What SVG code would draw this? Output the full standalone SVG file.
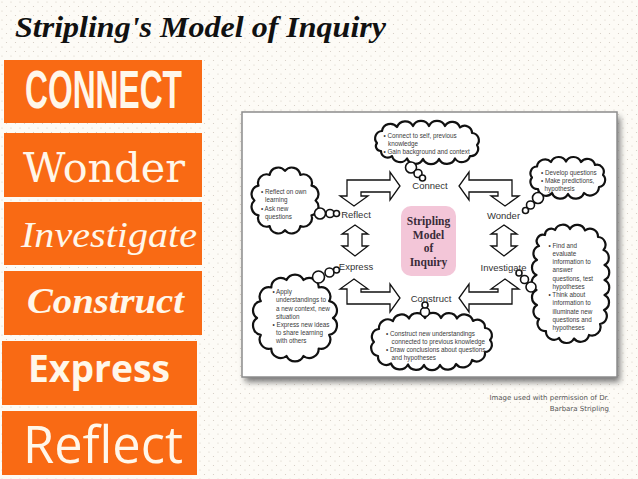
<svg xmlns="http://www.w3.org/2000/svg" width="638" height="479" viewBox="0 0 638 479">
<defs>
<pattern id="dots" width="9" height="9" patternUnits="userSpaceOnUse">
<circle cx="2" cy="2" r="0.6" fill="#d2cac0"/>
<circle cx="6.5" cy="6.5" r="0.6" fill="#d2cac0"/>
</pattern>
<filter id="shadow" x="-10%" y="-10%" width="120%" height="130%">
<feGaussianBlur stdDeviation="3"/>
</filter>
<style>
.box{fill:#F96A14}
.bt{fill:#FFF7EA}
.cloud{fill:#fff;stroke:#111;stroke-width:2.2;stroke-linejoin:round}
.bub{fill:#fff;stroke:#111;stroke-width:1.6}
.arw{fill:#fff;stroke:#111;stroke-width:1.3;stroke-linejoin:miter}
.ct{font-family:"Liberation Sans",Arial,sans-serif;font-size:6.3px;fill:#3a3a3a}
.lbl{font-family:"Liberation Sans",Arial,sans-serif;font-size:9.5px;fill:#333;text-anchor:middle}
.cap{font-family:"DejaVu Sans","Liberation Sans",sans-serif;font-size:7px;fill:#555;text-anchor:end}
.pk{font-family:"Liberation Serif","Times New Roman",serif;font-size:11.5px;font-weight:bold;fill:#3a2b38;text-anchor:middle}
</style>
</defs>

<rect width="638" height="479" fill="#FDFBF6"/>
<rect width="638" height="479" fill="url(#dots)"/>

<text id="title" x="15" y="37" font-family="Liberation Serif, serif" font-style="italic" font-weight="bold" font-size="29" textLength="371" lengthAdjust="spacingAndGlyphs" fill="#111">Stripling's Model of Inquiry</text>

<g id="box-connect">
<rect class="box" x="4" y="60" width="198" height="63"/>
<text class="bt" x="25" y="108" font-family="Liberation Sans, sans-serif" font-weight="bold" font-size="53" textLength="157" lengthAdjust="spacingAndGlyphs">CONNECT</text>
</g>
<g id="box-wonder">
<rect class="box" x="4" y="133" width="198" height="64"/>
<text class="bt" x="23" y="182" font-family="DejaVu Serif, serif" font-size="41" textLength="162" lengthAdjust="spacingAndGlyphs">Wonder</text>
</g>
<g id="box-investigate">
<rect class="box" x="4" y="202" width="198" height="63"/>
<text class="bt" x="21" y="247" font-family="Liberation Serif, serif" font-style="italic" font-size="36" textLength="176" lengthAdjust="spacingAndGlyphs">Investigate</text>
</g>
<g id="box-construct">
<rect class="box" x="4" y="271" width="198" height="64"/>
<text class="bt" x="27" y="313" font-family="Liberation Serif, serif" font-style="italic" font-weight="bold" font-size="36" textLength="157" lengthAdjust="spacingAndGlyphs">Construct</text>
</g>
<g id="box-express">
<rect class="box" x="2" y="341" width="195" height="64"/>
<text class="bt" x="28" y="382" font-family="Open Sans, sans-serif" font-weight="bold" font-size="37" textLength="142" lengthAdjust="spacingAndGlyphs">Express</text>
</g>
<g id="box-reflect">
<rect class="box" x="2" y="411" width="195" height="64"/>
<text class="bt" x="23" y="463" font-family="Open Sans, sans-serif" font-size="51" textLength="160" lengthAdjust="spacingAndGlyphs">Reflect</text>
</g>

<g id="frame">
<rect x="245" y="117" width="375" height="265" fill="#777" filter="url(#shadow)"/>
<rect x="242" y="112" width="375" height="265" fill="#fff" stroke="#8c8c8c" stroke-width="1.5"/>
</g>

<g id="connectors">
<polygon class="arw" points="347,180 390,180 390,172 400,186 390,200 390,192 361,192 361,196 368,196 354,206 340,196 347,196"/>
<polygon class="arw" points="512,180 469,180 469,172 459,186 469,200 469,192 498,192 498,196 491,196 505,206 519,196 512,196"/>
<polygon class="arw" points="355,225 368,234 362,234 362,246 368,246 355,256 342,246 348,246 348,234 342,234"/>
<polygon class="arw" points="504,225 517,234 511,234 511,246 517,246 504,256 491,246 497,246 497,234 491,234"/>
<polygon class="arw" points="347,304 390,304 390,312 400,298 390,284 390,292 361,292 361,289 368,289 354,279 340,289 347,289"/>
<polygon class="arw" points="512,304 469,304 469,312 459,298 469,284 469,292 498,292 498,289 491,289 505,279 519,289 512,289"/>
</g>

<g id="center">
<rect x="401" y="206" width="55" height="70" rx="10" fill="#F3C6D8"/>
<text class="pk" x="428.5" y="225">Stripling</text>
<text class="pk" x="428.5" y="238.5">Model</text>
<text class="pk" x="428.5" y="252">of</text>
<text class="pk" x="428.5" y="265.5">Inquiry</text>
</g>

<g id="connect">
<path class="cloud" d="M377,143 A7.2 7.2 0 0 1 382,131 A8.5 8.5 0 0 1 397,127 A8.8 8.8 0 0 1 413,126 A8.8 8.8 0 0 1 429,126 A8.8 8.8 0 0 1 445,126 A8.3 8.3 0 0 1 460,127.5 A7.3 7.3 0 0 1 472,133 A7.2 7.2 0 0 1 477,145 A7.2 7.2 0 0 1 470,156 A8.4 8.4 0 0 1 455,158.5 A8.8 8.8 0 0 1 439,159 A8.8 8.8 0 0 1 423,159 A8.8 8.8 0 0 1 407,158.5 A8.4 8.4 0 0 1 392,156 A6.7 6.7 0 0 1 381,151 A4.9 4.9 0 0 1 377,143 Z"/>
<text class="ct" x="383.5" y="137.5">• Connect to self, previous</text>
<text class="ct" x="388" y="145.5">knowledge</text>
<text class="ct" x="383.5" y="153.5">• Gain background and context</text>
<circle class="bub" cx="411" cy="167.5" r="5.5"/>
<circle class="bub" cx="418" cy="173.5" r="4"/>
<circle class="bub" cx="422.5" cy="178" r="3"/>
<text class="lbl" x="430" y="189">Connect</text>
</g>

<g id="wonder">
<path class="cloud" d="M532,177.5 A6.7 6.7 0 0 1 537,166.5 A8.1 8.1 0 0 1 551,162 A8.3 8.3 0 0 1 566,161.5 A8.3 8.3 0 0 1 581,162 A7.9 7.9 0 0 1 595,165 A7 7 0 0 1 603,175 A7 7 0 0 1 599,187 A8.9 8.9 0 0 1 584,193 A8.8 8.8 0 0 1 568,194 A8.8 8.8 0 0 1 552,193 A8 8 0 0 1 538,189 A7.1 7.1 0 0 1 532,177.5 Z"/>
<text class="ct" x="541" y="174.5">• Develop questions</text>
<text class="ct" x="541" y="183">• Make predictions,</text>
<text class="ct" x="544.5" y="191">hypothesis</text>
<circle class="bub" cx="538" cy="198" r="5.5"/>
<circle class="bub" cx="530.5" cy="205" r="4"/>
<circle class="bub" cx="525.5" cy="210.5" r="3"/>
<text class="lbl" x="503.5" y="218.5">Wonder</text>
</g>

<g id="reflect">
<path class="cloud" d="M315.6,200.5 A8.6 8.6 0 0 1 311.5,215.3 A8.6 8.6 0 0 1 300.3,226.1 A8.6 8.6 0 0 1 285,230.1 A8.6 8.6 0 0 1 269.7,226.1 A8.6 8.6 0 0 1 258.5,215.3 A8.6 8.6 0 0 1 254.4,200.5 A8.6 8.6 0 0 1 258.5,185.7 A8.6 8.6 0 0 1 269.7,174.9 A8.6 8.6 0 0 1 285,170.9 A8.6 8.6 0 0 1 300.3,174.9 A8.6 8.6 0 0 1 311.5,185.7 A8.6 8.6 0 0 1 315.6,200.5 Z"/>
<text class="ct" x="261" y="194">• Reflect on own</text>
<text class="ct" x="265" y="202.3">learning</text>
<text class="ct" x="261" y="210.5">• Ask new</text>
<text class="ct" x="265" y="219">questions</text>
<circle class="bub" cx="320" cy="213.5" r="5.5"/>
<circle class="bub" cx="330" cy="213.5" r="4"/>
<circle class="bub" cx="336.5" cy="213.5" r="3"/>
<text class="lbl" x="356" y="218">Reflect</text>
</g>

<g id="express">
<path class="cloud" d="M333,318 A9.4 9.4 0 0 1 329.2,334.9 A9.4 9.4 0 0 1 318.7,348.5 A9.4 9.4 0 0 1 303.5,356 A9.4 9.4 0 0 1 286.5,356 A9.4 9.4 0 0 1 271.3,348.5 A9.4 9.4 0 0 1 260.8,334.9 A9.4 9.4 0 0 1 257,318 A9.4 9.4 0 0 1 260.8,301.1 A9.4 9.4 0 0 1 271.3,287.5 A9.4 9.4 0 0 1 286.5,280 A9.4 9.4 0 0 1 303.5,280 A9.4 9.4 0 0 1 318.7,287.5 A9.4 9.4 0 0 1 329.2,301.1 A9.4 9.4 0 0 1 333,318 Z"/>
<text class="ct" x="272.5" y="294">• Apply</text>
<text class="ct" x="276" y="302.3">understandings to</text>
<text class="ct" x="276" y="310.5">a new context, new</text>
<text class="ct" x="276" y="318.5">situation</text>
<text class="ct" x="272.5" y="326.5">• Express new ideas</text>
<text class="ct" x="276" y="334.5">to share learning</text>
<text class="ct" x="276" y="343">with others</text>
<circle class="bub" cx="318.5" cy="277" r="6"/>
<circle class="bub" cx="329.5" cy="272.5" r="4.5"/>
<circle class="bub" cx="336.5" cy="270" r="3"/>
<text class="lbl" x="356" y="270">Express</text>
</g>

<g id="construct">
<path class="cloud" d="M374,342 A7.7 7.7 0 0 1 379,329 A8.9 8.9 0 0 1 393,321 A8.9 8.9 0 0 1 409,318.5 A8.8 8.8 0 0 1 425,318 A8.8 8.8 0 0 1 441,318 A8.8 8.8 0 0 1 457,318.5 A8.9 8.9 0 0 1 473,321 A7.7 7.7 0 0 1 485,328 A7.2 7.2 0 0 1 490,340 A7.2 7.2 0 0 1 485,352 A8.4 8.4 0 0 1 472,360 A9.1 9.1 0 0 1 456,364 A8.8 8.8 0 0 1 440,365 A8.8 8.8 0 0 1 424,365 A8.8 8.8 0 0 1 408,364.5 A9.4 9.4 0 0 1 391,363.5 A8.3 8.3 0 0 1 378,356 A8 8 0 0 1 374,342 Z"/>
<text class="ct" x="386" y="335.5">• Construct new understandings</text>
<text class="ct" x="391.5" y="343.8">connected to previous knowledge</text>
<text class="ct" x="386" y="352">• Draw conclusions about questions</text>
<text class="ct" x="391.5" y="360.3">and hypotheses</text>
<circle class="bub" cx="425" cy="312" r="4.5"/>
<circle class="bub" cx="425" cy="305" r="3"/>
<text class="lbl" x="431" y="302">Construct</text>
</g>

<g id="investigate">
<path class="cloud" d="M555,230 A8.3 8.3 0 0 1 570,229 A8.3 8.3 0 0 1 585,230.5 A8 8 0 0 1 598,237 A7.8 7.8 0 0 1 603.5,250 A8.3 8.3 0 0 1 604.5,265 A8.3 8.3 0 0 1 604.5,280 A8.3 8.3 0 0 1 604.5,295 A8.3 8.3 0 0 1 604,310 A8 8 0 0 1 600,324 A8.6 8.6 0 0 1 589,335 A8.5 8.5 0 0 1 574,338.5 A8.3 8.3 0 0 1 559,338 A8.1 8.1 0 0 1 546,331 A7.6 7.6 0 0 1 539,319 A7.8 7.8 0 0 1 537,305 A8.3 8.3 0 0 1 536.5,290 A8.3 8.3 0 0 1 536.5,275 A8.3 8.3 0 0 1 537,260 A7.8 7.8 0 0 1 539,246 A6.4 6.4 0 0 1 545,235 A6.2 6.2 0 0 1 555,230 Z"/>
<text class="ct" x="548.5" y="247.5">• Find and</text>
<text class="ct" x="552.5" y="255.8">evaluate</text>
<text class="ct" x="552.5" y="264">information to</text>
<text class="ct" x="552.5" y="272.3">answer</text>
<text class="ct" x="552.5" y="280.5">questions, test</text>
<text class="ct" x="552.5" y="288.8">hypotheses</text>
<text class="ct" x="548.5" y="297">• Think about</text>
<text class="ct" x="552.5" y="305.3">information to</text>
<text class="ct" x="552.5" y="313.5">illuminate new</text>
<text class="ct" x="552.5" y="321.8">questions and</text>
<text class="ct" x="552.5" y="330">hypotheses</text>
<circle class="bub" cx="519" cy="273" r="3"/>
<circle class="bub" cx="524.5" cy="279.5" r="4"/>
<circle class="bub" cx="531" cy="287" r="5"/>
<text class="lbl" x="503.5" y="270.5">Investigate</text>
</g>

<g id="caption">
<text class="cap" x="609" y="399.5">Image used with permission of Dr.</text>
<text class="cap" x="609" y="410.5">Barbara Stripling</text>
</g>
</svg>
